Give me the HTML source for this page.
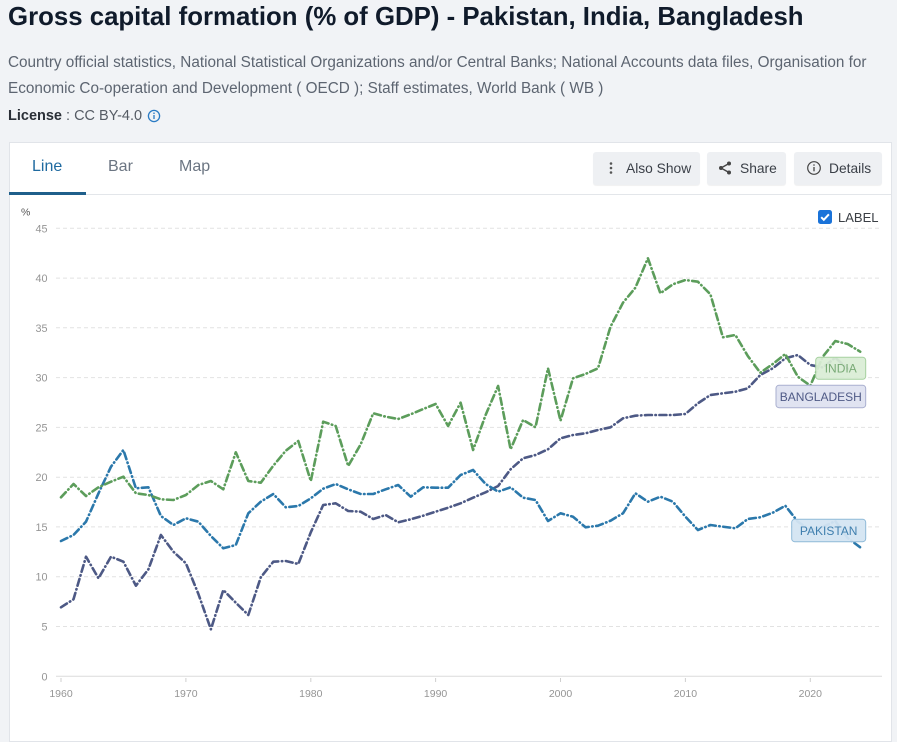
<!DOCTYPE html>
<html>
<head>
<meta charset="utf-8">
<style>
  html,body{margin:0;padding:0;}
  body{width:897px;height:722px;background:#f1f3f6;position:relative;overflow:hidden;font-family:"Liberation Sans",Arial,sans-serif;}
  .abs{position:absolute;white-space:nowrap;}
  .title{left:8px;top:5px;font-size:25.8px;line-height:25.8px;font-weight:bold;color:#101b2b;}
  .sub{left:8px;font-size:15.3px;line-height:26px;color:#5d6571;}
  .lic{left:8px;top:107px;font-size:14.5px;line-height:18px;color:#555b64;}
  .lic b{color:#2a2f37;}
  .card{left:9px;top:142px;width:883px;height:600px;background:#fff;border:1px solid #e1e4e9;box-sizing:border-box;}
  .tab{top:157px;font-size:16px;line-height:20px;color:#6b7582;}
  .btn{top:152px;height:33px;background:#eef0f3;border-radius:3px;box-shadow:0 1px 1px rgba(0,0,0,0.06);font-size:13.8px;line-height:33px;color:#3a3f47;box-sizing:border-box;}
</style>
</head>
<body>
<div class="abs title">Gross capital formation (% of GDP) - Pakistan, India, Bangladesh</div>
<div class="abs sub" style="top:50px;">Country official statistics, National Statistical Organizations and/or Central Banks; National Accounts data files, Organisation for</div>
<div class="abs sub" style="top:76px;">Economic Co-operation and Development ( OECD ); Staff estimates, World Bank ( WB )</div>
<div class="abs lic"><b>License</b> : CC BY-4.0</div>
<svg class="abs" style="left:147px;top:109px;" width="14" height="14" viewBox="0 0 14 14">
  <circle cx="7" cy="7" r="5.6" fill="none" stroke="#2a7bc4" stroke-width="1.3"/>
  <rect x="6.35" y="6" width="1.3" height="4" fill="#2a7bc4"/>
  <circle cx="7" cy="4.2" r="0.8" fill="#2a7bc4"/>
</svg>

<div class="abs card"></div>
<div class="abs tab" style="left:32px;color:#1f6aa0;">Line</div>
<div class="abs tab" style="left:108px;">Bar</div>
<div class="abs tab" style="left:179px;">Map</div>
<div class="abs" style="left:10px;top:194px;width:881px;height:1px;background:#e3e6ea;"></div>
<div class="abs" style="left:9px;top:192px;width:77px;height:3px;background:#1f5f8b;"></div>

<div class="abs btn" style="left:593px;width:107px;padding-left:33px;">Also Show</div>
<svg class="abs" style="left:607px;top:160px;" width="8" height="16" viewBox="0 0 8 16">
  <circle cx="4" cy="3.5" r="1.3" fill="#555"/><circle cx="4" cy="8" r="1.3" fill="#555"/><circle cx="4" cy="12.5" r="1.3" fill="#555"/>
</svg>
<div class="abs btn" style="left:707px;width:79px;padding-left:33px;">Share</div>
<svg class="abs" style="left:717px;top:160px;" width="16" height="16" viewBox="0 0 16 16">
  <line x1="12" y1="3.5" x2="4" y2="8" stroke="#444" stroke-width="1.3"/>
  <line x1="12" y1="12.5" x2="4" y2="8" stroke="#444" stroke-width="1.3"/>
  <circle cx="12" cy="3.5" r="2" fill="#444"/><circle cx="4" cy="8" r="2" fill="#444"/><circle cx="12" cy="12.5" r="2" fill="#444"/>
</svg>
<div class="abs btn" style="left:794px;width:88px;padding-left:35px;">Details</div>
<svg class="abs" style="left:806px;top:160px;" width="16" height="16" viewBox="0 0 16 16">
  <circle cx="8" cy="8" r="6.3" fill="none" stroke="#444" stroke-width="1.2"/>
  <rect x="7.35" y="7" width="1.3" height="4.3" fill="#444"/>
  <circle cx="8" cy="5" r="0.8" fill="#444"/>
</svg>

<svg class="abs" style="left:818px;top:210px;" width="14" height="14" viewBox="0 0 14 14">
  <rect x="0" y="0" width="14" height="14" rx="2.5" fill="#1a73d9"/>
  <path d="M3.2 7.2 L5.8 9.8 L10.9 4.3" fill="none" stroke="#fff" stroke-width="2"/>
</svg>
<div class="abs" style="left:838px;top:210px;font-size:13px;line-height:16px;color:#3b3f45;">LABEL</div>

<svg class="abs" style="left:0;top:0;" width="897" height="722" viewBox="0 0 897 722" font-family="Liberation Sans, Arial, sans-serif">
  <text x="21" y="215.5" font-size="10.5" fill="#555">%</text>
  <g stroke="#e2e2e2" stroke-width="1" stroke-dasharray="4 3">
    <line x1="56" y1="228.3" x2="882" y2="228.3"/>
    <line x1="56" y1="278.1" x2="882" y2="278.1"/>
    <line x1="56" y1="327.8" x2="882" y2="327.8"/>
    <line x1="56" y1="377.6" x2="882" y2="377.6"/>
    <line x1="56" y1="427.4" x2="882" y2="427.4"/>
    <line x1="56" y1="477.2" x2="882" y2="477.2"/>
    <line x1="56" y1="526.9" x2="882" y2="526.9"/>
    <line x1="56" y1="576.7" x2="882" y2="576.7"/>
    <line x1="56" y1="626.5" x2="882" y2="626.5"/>
  </g>
  <line x1="56" y1="676.3" x2="882" y2="676.3" stroke="#dcdcdc" stroke-width="1"/>
  <g stroke="#cfcfcf" stroke-width="1">
    <line x1="61" y1="678" x2="61" y2="682"/>
    <line x1="185.9" y1="678" x2="185.9" y2="682"/>
    <line x1="310.8" y1="678" x2="310.8" y2="682"/>
    <line x1="435.6" y1="678" x2="435.6" y2="682"/>
    <line x1="560.5" y1="678" x2="560.5" y2="682"/>
    <line x1="685.4" y1="678" x2="685.4" y2="682"/>
    <line x1="810.3" y1="678" x2="810.3" y2="682"/>
  </g>
  <g font-size="10.8" fill="#959595" text-anchor="end">
    <text x="47.5" y="232.3">45</text>
    <text x="47.5" y="282.1">40</text>
    <text x="47.5" y="331.8">35</text>
    <text x="47.5" y="381.6">30</text>
    <text x="47.5" y="431.4">25</text>
    <text x="47.5" y="481.2">20</text>
    <text x="47.5" y="530.9">15</text>
    <text x="47.5" y="580.7">10</text>
    <text x="47.5" y="630.5">5</text>
    <text x="47.5" y="680.3">0</text>
  </g>
  <g font-size="10.5" fill="#959595" text-anchor="middle">
    <text x="61" y="697">1960</text>
    <text x="185.9" y="697">1970</text>
    <text x="310.8" y="697">1980</text>
    <text x="435.6" y="697">1990</text>
    <text x="560.5" y="697">2000</text>
    <text x="685.4" y="697">2010</text>
    <text x="810.3" y="697">2020</text>
  </g>

  <g fill="none" stroke-width="2.6" stroke-linecap="round" stroke-linejoin="round" stroke-dasharray="7 3.5 0.5 3.5">
    <polyline stroke="#4d5985" points="61.0,607.3 73.5,599.3 86.0,556.7 98.5,578.3 111.0,556.7 123.4,561.7 135.9,585.7 148.4,569.3 160.9,535 173.4,551.7 185.9,563.3 198.4,594 210.9,629.3 223.3,590 235.8,602.7 248.3,615 260.8,577.3 273.3,561.7 285.8,561 298.3,564 310.8,532.3 323.2,505 335.7,503.3 348.2,511 360.7,511.7 373.2,519 385.7,515 398.2,522.3 410.7,519.3 423.2,515.7 435.6,511.7 448.1,507.7 460.6,503.3 473.1,497.7 485.6,492.3 498.1,486 510.6,469.3 523.1,458.3 535.5,455 548.0,449.3 560.5,438.3 573.0,435 585.5,433.3 598.0,430 610.5,427.3 623.0,418.3 635.4,415.7 647.9,415 660.4,415 672.9,415 685.4,414 697.9,403.3 710.4,395 722.9,393.3 735.4,391.7 747.8,388.3 760.3,375 772.8,368.3 785.3,358.3 797.8,355 810.3,365 822.8,367.5 835.3,357.7 847.7,368.7"/>
    <polyline stroke="#2b78ab" points="61.0,541 73.5,535 86.0,521.7 98.5,493.3 111.0,466.7 123.4,450 135.9,488.3 148.4,487.3 160.9,516 173.4,525 185.9,518.3 198.4,521.7 210.9,536 223.3,548.3 235.8,545 248.3,513.3 260.8,501.7 273.3,494 285.8,507.3 298.3,506 310.8,498.3 323.2,488.7 335.7,484 348.2,489.3 360.7,494 373.2,494 385.7,489.3 398.2,485 410.7,496.7 423.2,487.3 435.6,487.7 448.1,487.7 460.6,475 473.1,470 485.6,484 498.1,491.7 510.6,487.3 523.1,497.7 535.5,500 548.0,521 560.5,513.3 573.0,516.7 585.5,527.3 598.0,525.7 610.5,520.7 623.0,513.3 635.4,493.3 647.9,501.7 660.4,496.7 672.9,501.7 685.4,516.7 697.9,530 710.4,525 722.9,526.7 735.4,528.3 747.8,519 760.3,517.3 772.8,512.7 785.3,505.7 797.8,521.7 810.3,530 822.8,527 835.3,521 847.7,538 860.2,547.3"/>
    <polyline stroke="#5c9d5b" points="61.0,497.3 73.5,484 86.0,496 98.5,487.3 111.0,481.7 123.4,476.7 135.9,493.3 148.4,495 160.9,499.3 173.4,500 185.9,495 198.4,485 210.9,481 223.3,489.3 235.8,452.3 248.3,481 260.8,482.7 273.3,465.7 285.8,450.7 298.3,441 310.8,481 323.2,421.7 335.7,426 348.2,466 360.7,444.3 373.2,413.3 385.7,416.7 398.2,419 410.7,414.3 423.2,409 435.6,404 448.1,426 460.6,402.7 473.1,450 485.6,415 498.1,386 510.6,449.3 523.1,420 535.5,427.3 548.0,368.3 560.5,420.7 573.0,378.3 585.5,374 598.0,368.3 610.5,326.7 623.0,302.7 635.4,287.7 647.9,258.3 660.4,293.3 672.9,284.3 685.4,280 697.9,281.7 710.4,294.3 722.9,337.3 735.4,335 747.8,356 760.3,372.7 772.8,364 785.3,354 797.8,376.7 810.3,385.7 822.8,356.7 835.3,341 847.7,344 860.2,351.7"/>
  </g>

  <g font-size="12" text-anchor="middle">
    <rect x="815.7" y="357.3" width="50" height="22" rx="3" fill="#d9edd5" fill-opacity="0.93" stroke="#a6d19f" stroke-width="1"/>
    <text x="840.7" y="372.5" fill="#79aa76">INDIA</text>
    <rect x="776" y="385.3" width="89.7" height="22.4" rx="3" fill="#dee1f0" fill-opacity="0.95" stroke="#a9afcf" stroke-width="1"/>
    <text x="820.8" y="400.8" fill="#4f5a86">BANGLADESH</text>
    <rect x="791.7" y="519.3" width="74" height="22.4" rx="3" fill="#d4e5f2" fill-opacity="0.95" stroke="#8fbad8" stroke-width="1"/>
    <text x="828.7" y="534.8" fill="#3f7fae">PAKISTAN</text>
  </g>
</svg>
</body>
</html>
